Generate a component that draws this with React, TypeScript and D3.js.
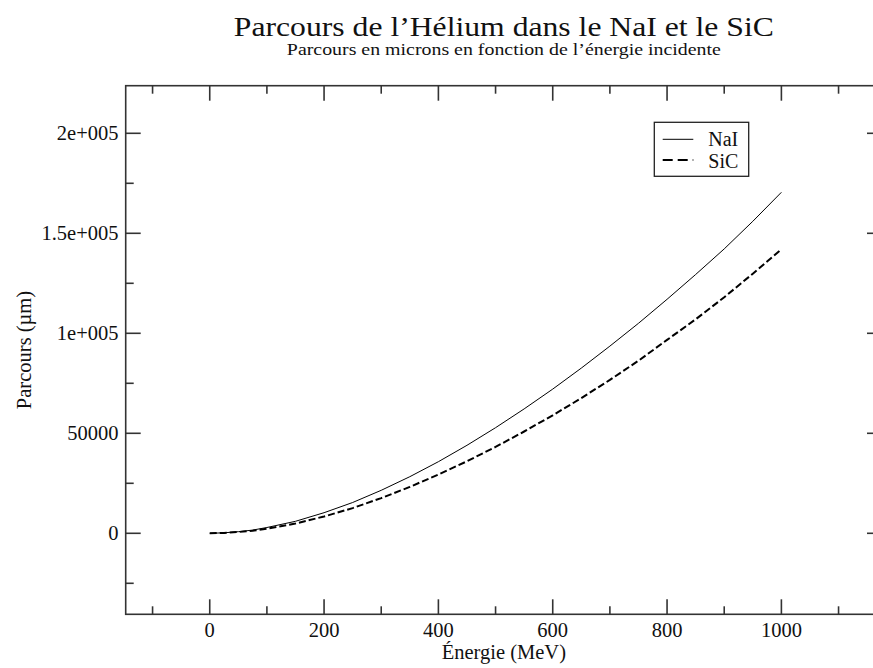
import React from "react";
import * as d3 from "d3";

const energies = [0, 25, 50, 75, 100, 150, 200, 250, 300, 350, 400, 450, 500, 550, 600, 650, 700, 750, 800, 850, 900, 950, 1000];
const naiRange = [0, 250, 800, 1600, 2900, 6000, 10300, 15400, 21500, 28300, 35800, 44000, 52800, 62200, 72100, 82600, 93600, 105000, 117000, 129400, 142200, 156000, 170500];
const sicRange = [0, 200, 650, 1300, 2300, 4900, 8400, 12600, 17600, 23200, 29400, 36000, 43200, 50900, 59000, 67600, 76700, 86300, 96700, 107000, 118000, 129800, 142000];

const xMajorTicks = [0, 200, 400, 600, 800, 1000];
const xMinorTicks = [-100, 100, 300, 500, 700, 900, 1100];
const yMajorTicks = [0, 50000, 100000, 150000, 200000];
const yTickLabels = ["0", "50000", "1e+005", "1.5e+005", "2e+005"];
const yMinorTicks = [-25000, 25000, 75000, 125000, 175000];

const seriesNames = ["NaI", "SiC"];

const W = 873;
const H = 668;
const FONT = "'Liberation Serif', 'Times New Roman', serif";

export default function App() {
  const x = d3.scaleLinear().domain([-147, 1176]).range([125.7, 882]);
  const y = d3.scaleLinear().domain([-40500, 223800]).range([614.3, 85.7]);
  const [x0, x1] = x.range();
  const [yb, yt] = y.range();

  const line = d3
    .line<[number, number]>()
    .x((d) => x(d[0]))
    .y((d) => y(d[1]));

  const naiPts = energies.map((e, i) => [e, naiRange[i]] as [number, number]);
  const sicPts = energies.map((e, i) => [e, sicRange[i]] as [number, number]);

  const axisColor = "#333";
  const major = 15;
  const minor = 8;

  const lx = 654.3, ly = 122.3, lw = 94.4, lh = 54;
  const tickFont = 20.5;

  return (
    <svg
      width={W}
      height={H}
      style={{ position: "absolute", left: 0, top: 0, background: "#fff" }}
      fontFamily={FONT}
    >
      <rect x={0} y={0} width={W} height={H} fill="#fff" />
      {/* titles */}
      <text x={(x0 + x1) / 2} y={35.5} textAnchor="middle" fontSize={28} fill="#111"
        textLength={540} lengthAdjust="spacingAndGlyphs">
        Parcours de l’Hélium dans le NaI et le SiC
      </text>
      <text x={(x0 + x1) / 2} y={55} textAnchor="middle" fontSize={16.5} fill="#111"
        textLength={434} lengthAdjust="spacingAndGlyphs">
        Parcours en microns en fonction de l’énergie incidente
      </text>

      {/* curves */}
      <path d={line(naiPts) || ""} fill="none" stroke="#000" strokeWidth={1} />
      <path d={line(sicPts) || ""} fill="none" stroke="#000" strokeWidth={2} strokeDasharray="7,3" />

      {/* frame */}
      <rect x={x0} y={yt} width={x1 - x0} height={yb - yt} fill="none" stroke={axisColor} strokeWidth={1.6} />

      {/* x ticks */}
      {xMajorTicks.map((t) => (
        <g key={"xM" + t}>
          <line x1={x(t)} x2={x(t)} y1={yb} y2={yb - major} stroke={axisColor} strokeWidth={1.6} />
          <line x1={x(t)} x2={x(t)} y1={yt} y2={yt + major} stroke={axisColor} strokeWidth={1.6} />
          <text x={x(t)} y={637} textAnchor="middle" fontSize={tickFont} fill="#111">
            {t}
          </text>
        </g>
      ))}
      {xMinorTicks.map((t) => (
        <g key={"xm" + t}>
          <line x1={x(t)} x2={x(t)} y1={yb} y2={yb - minor} stroke={axisColor} strokeWidth={1.6} />
          <line x1={x(t)} x2={x(t)} y1={yt} y2={yt + minor} stroke={axisColor} strokeWidth={1.6} />
        </g>
      ))}

      {/* y ticks */}
      {yMajorTicks.map((t, i) => (
        <g key={"yM" + t}>
          <line x1={x0} x2={x0 + major} y1={y(t)} y2={y(t)} stroke={axisColor} strokeWidth={1.6} />
          <line x1={x1} x2={x1 - major} y1={y(t)} y2={y(t)} stroke={axisColor} strokeWidth={1.6} />
          <text x={118.5} y={y(t)} dy="0.35em" textAnchor="end" fontSize={tickFont} fill="#111">
            {yTickLabels[i]}
          </text>
        </g>
      ))}
      {yMinorTicks.map((t) => (
        <g key={"ym" + t}>
          <line x1={x0} x2={x0 + minor} y1={y(t)} y2={y(t)} stroke={axisColor} strokeWidth={1.6} />
          <line x1={x1} x2={x1 - minor} y1={y(t)} y2={y(t)} stroke={axisColor} strokeWidth={1.6} />
        </g>
      ))}

      {/* axis labels */}
      <text x={(x0 + x1) / 2} y={659} textAnchor="middle" fontSize={tickFont} fill="#111">
        Énergie (MeV)
      </text>
      <text
        transform={`translate(31,${(yb + yt) / 2}) rotate(-90)`}
        textAnchor="middle"
        fontSize={tickFont}
        fill="#111"
      >
        Parcours (µm)
      </text>

      {/* legend */}
      <rect x={lx} y={ly} width={lw} height={lh} fill="#fff" stroke="#222" strokeWidth={1.3} />
      <line x1={662.7} x2={693.3} y1={139.3} y2={139.3} stroke="#000" strokeWidth={1} />
      <line x1={662.7} x2={693.3} y1={160} y2={160} stroke="#000" strokeWidth={2.2} strokeDasharray="10,5" />
      <text x={708.3} y={146} fontSize={20} fill="#111">
        {seriesNames[0]}
      </text>
      <text x={708.3} y={168} fontSize={20} fill="#111">
        {seriesNames[1]}
      </text>
    </svg>
  );
}
